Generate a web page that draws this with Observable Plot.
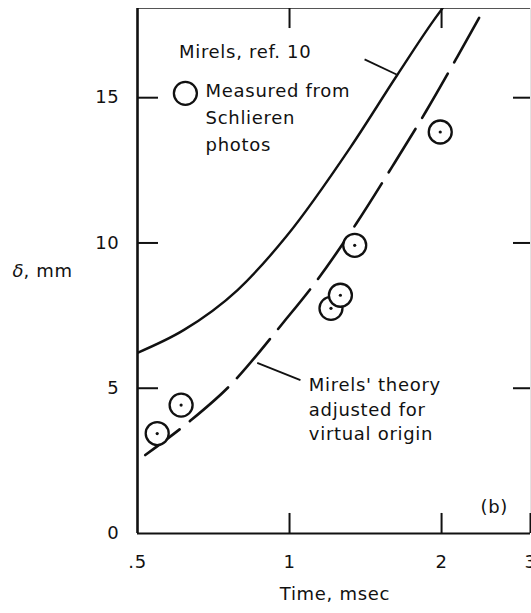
<!DOCTYPE html>
<html>
<head>
<meta charset="utf-8">
<script src="https://cdn.jsdelivr.net/npm/d3@7"></script>
<script src="https://cdn.jsdelivr.net/npm/@observablehq/plot@0.6"></script>
<style>
  html, body { margin: 0; padding: 0; background: #fff; overflow: hidden; }
  #chart svg { display: block; }
</style>
</head>
<body>
<div id="chart"></div>
<script>
// Boundary-layer thickness δ (mm) against time (msec) on a logarithmic time axis.

// Schlieren measurements
const measuredTime  = [0.547, 0.610, 1.208, 1.261, 1.346, 1.988];
const measuredDelta = [3.44, 4.42, 7.75, 8.20, 9.92, 13.82];

// Mirels, ref. 10 (solid curve)
const mirelsTime  = [0.5, 0.617, 0.789, 0.986, 1.321, 1.634, 1.931, 2.009];
const mirelsDelta = [6.22, 7.00, 8.38, 10.23, 13.30, 15.78, 17.67, 18.08];

// Mirels' theory adjusted for virtual origin (dashed curve)
const adjustedTime  = [0.518, 0.632, 0.752, 0.974, 1.134, 1.356, 1.596, 1.866, 2.146, 2.425];
const adjustedDelta = [2.70, 3.84, 4.99, 7.28, 8.72, 10.67, 12.62, 14.55, 16.39, 18.04];

// Axis ticks
const xTicks = [0.5, 1, 2, 3];
const xTickLabels = [".5", "1", "2", "3"];
const yTicks = [0, 5, 10, 15];

const measuredLegendLines = ["Measured from", "Schlieren", "photos"];
const adjustedLabelLines = ["Mirels' theory", "adjusted for", "virtual origin"];

// ---- build tables ----
const measured = measuredTime.map((t, i) => ({t, d: measuredDelta[i]}));
const mirels = mirelsTime.map((t, i) => ({t, d: mirelsDelta[i]}));
const adjusted = adjustedTime.map((t, i) => ({t, d: adjustedDelta[i]}));

const yMax = 18.07;
const ink = "#111";
const font = "'DejaVu Sans', sans-serif";

const chart = Plot.plot({
  width: 531,
  height: 613,
  marginLeft: 137,
  marginRight: 1,
  marginTop: 8,
  marginBottom: 80,
  style: {fontFamily: font, fontSize: "18px", color: ink, background: "#fff", letterSpacing: "0.7px"},
  x: {type: "log", domain: [0.5, 3]},
  y: {domain: [0, yMax]},
  marks: [
    // tick labels
    Plot.axisX(xTicks, {tickSize: 0, tickPadding: 22, label: null, fontSize: 18,
      tickFormat: d => xTickLabels[xTicks.indexOf(d)]}),
    Plot.axisY(yTicks, {tickSize: 0, tickPadding: 18, label: null, fontSize: 18}),

    // frame
    Plot.ruleY([yMax], {stroke: "#555", strokeWidth: 1.2}),
    Plot.ruleX([3], {stroke: "#e2e2e2", strokeWidth: 1}),
    Plot.ruleX([0.5], {stroke: ink, strokeWidth: 2.6}),
    Plot.ruleY([0], {stroke: ink, strokeWidth: 2.2}),

    // inward ticks
    Plot.ruleY(yTicks.slice(1), {x1: 0.5, x2: 0.5502, stroke: ink, strokeWidth: 2}),
    Plot.ruleY(yTicks.slice(1), {x1: 2.776, x2: 3, stroke: ink, strokeWidth: 2}),
    Plot.ruleX(xTicks.slice(1), {y1: 0, y2: 0.69, stroke: ink, strokeWidth: 2}),
    Plot.ruleX([1, 2], {y1: yMax, y2: yMax - 0.69, stroke: ink, strokeWidth: 2}),

    // curves
    Plot.line(mirels, {x: "t", y: "d", curve: "monotone-x", stroke: ink, strokeWidth: 2.4, clip: true}),
    Plot.line(adjusted, {x: "t", y: "d", curve: "monotone-x", stroke: ink, strokeWidth: 2.6,
      strokeDasharray: "51,13", strokeDashoffset: 8, clip: true}),

    // leader lines
    Plot.link([{x1: 1.408, y1: 16.32, x2: 1.629, y2: 15.80}],
      {x1: "x1", y1: "y1", x2: "x2", y2: "y2", stroke: ink, strokeWidth: 1.8}),
    Plot.link([{x1: 0.863, y1: 5.87, x2: 1.051, y2: 5.28}],
      {x1: "x1", y1: "y1", x2: "x2", y2: "y2", stroke: ink, strokeWidth: 1.8}),

    // measured points: open circles with a centre dot
    Plot.dot(measured, {x: "t", y: "d", r: 11.5, stroke: ink, strokeWidth: 2.3, fill: "#fff"}),
    Plot.dot(measured, {x: "t", y: "d", r: 1.6, fill: ink}),

    // legend symbol
    Plot.dot([{t: 0.622, d: 15.15}], {x: "t", y: "d", r: 11.5, stroke: ink, strokeWidth: 2.3, fill: "#fff"}),

    // annotations
    Plot.text(["Mirels, ref. 10"], {x: () => 0.604, y: () => 16.55, text: d => d,
      textAnchor: "start", fill: ink, fontSize: 18}),
    Plot.text(measuredLegendLines, {x: () => 0.682, y: (d, i) => 15.22 - i * 0.929, text: d => d,
      textAnchor: "start", fill: ink, fontSize: 18}),
    Plot.text(adjustedLabelLines, {x: () => 1.092, y: (d, i) => 5.10 - i * 0.843, text: d => d,
      textAnchor: "start", fill: ink, fontSize: 18}),
    Plot.text(["(b)"], {x: () => 2.388, y: () => 0.92, text: d => d,
      textAnchor: "start", fill: ink, fontSize: 18}),

    // axis titles
    Plot.text(["δ"], {y: () => 9.03, frameAnchor: "left", dx: -125, text: d => d,
      textAnchor: "start", fill: ink, fontSize: 18, fontStyle: "italic"}),
    Plot.text([", mm"], {y: () => 9.03, frameAnchor: "left", dx: -114, text: d => d,
      textAnchor: "start", fill: ink, fontSize: 18}),
    Plot.text(["Time, msec"], {x: () => 1.23, frameAnchor: "bottom", dy: 66, text: d => d,
      fill: ink, fontSize: 18})
  ]
});

document.getElementById("chart").append(chart);
</script>
</body>
</html>
